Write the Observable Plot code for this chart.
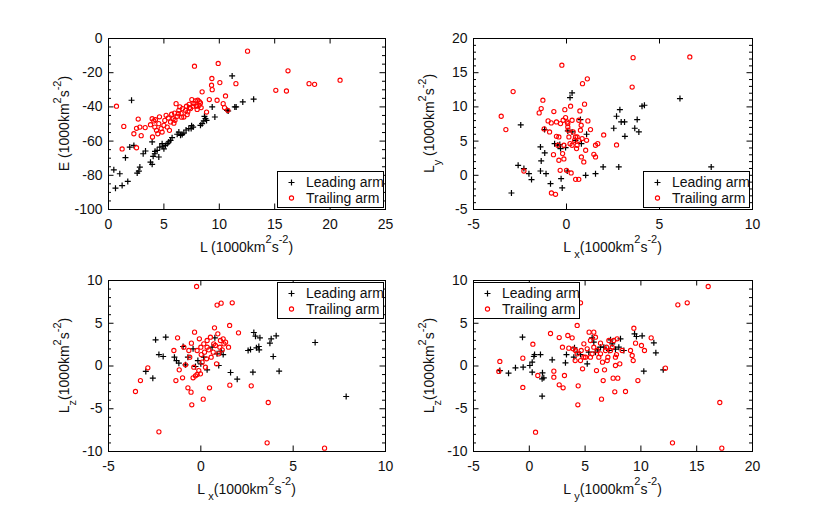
<!DOCTYPE html>
<html><head><meta charset="utf-8">
<script src="https://cdn.jsdelivr.net/npm/d3@7"></script>
<script src="https://cdn.jsdelivr.net/npm/@observablehq/plot@0.6"></script>
<style>
body{margin:0;background:#fff;}
#wrap{position:relative;width:830px;height:510px;overflow:hidden;background:#fff;}
#wrap svg{position:absolute;}
</style></head><body><div id="wrap"></div>
<script>
// ---------- Panel 1: E vs L ----------
const p1Lead = [[0.48,-76.8],[1.02,-79.1],[0.63,-87.5],[1.23,-86.0],[1.74,-83.6],[1.53,-69.7],[1.92,-63.5],[2.29,-62.5],[2.08,-36.1],[2.59,-78.7],[2.83,-75.2],[2.74,-77.5],[3.13,-67.4],[3.34,-65.8],[3.79,-72.3],[3.94,-73.6],[4.03,-68.9],[3.94,-60.5],[4.18,-67.4],[4.39,-65.4],[4.54,-69.3],[4.63,-63.5],[4.84,-61.5],[5.0,-64.5],[5.14,-62.5],[5.3,-61.5],[5.44,-60.5],[5.6,-59.6],[5.74,-58.0],[6.35,-54.7],[6.5,-56.6],[6.65,-56.1],[6.8,-55.3],[7.25,-52.7],[7.46,-52.7],[7.64,-51.8],[8.3,-50.8],[8.45,-49.8],[8.6,-48.2],[8.66,-45.5],[8.75,-46.9],[8.85,-47.9],[9.36,-40.0],[9.6,-45.9],[10.7,-42.0],[10.8,-42.4],[11.16,-21.9],[11.4,-40.0],[11.52,-40.0],[12.12,-37.1],[13.1,-35.5],[4.2,-66.0],[4.9,-63.0],[6.2,-56.0],[7.0,-53.5],[7.5,-51.0]];
const p1Trail = [[0.72,-39.6],[1.38,-51.4],[1.23,-64.6],[2.53,-63.9],[2.29,-55.7],[2.53,-52.5],[2.68,-47.1],[2.83,-51.8],[2.95,-56.8],[3.31,-52.1],[3.79,-50.4],[3.97,-57.6],[4.09,-48.2],[4.24,-47.5],[4.18,-51.8],[4.33,-53.7],[4.54,-49.8],[4.75,-52.7],[5.0,-50.8],[5.08,-47.9],[5.2,-44.9],[5.3,-51.8],[5.5,-53.7],[5.6,-48.8],[5.7,-44.3],[5.84,-46.9],[5.96,-43.6],[6.1,-38.1],[6.2,-45.5],[6.35,-42.0],[6.44,-40.0],[6.56,-43.9],[6.68,-41.0],[6.8,-45.9],[6.95,-42.0],[7.04,-39.6],[7.16,-42.9],[7.28,-38.5],[7.4,-41.0],[7.52,-35.7],[7.64,-39.6],[7.76,-16.2],[7.85,-36.5],[7.94,-39.6],[8.06,-36.1],[8.18,-39.1],[8.3,-37.7],[8.45,-31.2],[8.36,-40.4],[8.85,-43.0],[9.1,-35.7],[9.33,-23.4],[9.3,-27.3],[9.36,-29.9],[9.8,-36.1],[9.9,-14.6],[10.05,-25.8],[10.35,-38.1],[10.47,-40.4],[10.56,-33.6],[10.77,-42.0],[11.5,-26.4],[12.55,-7.4],[15.1,-30.3],[16.06,-30.7],[16.2,-18.9],[18.1,-26.4],[18.6,-26.8],[20.9,-24.4],[3.94,-46.9],[4.45,-55.7],[4.84,-54.7],[5.4,-46.5],[6.0,-47.8],[6.6,-46.0],[7.1,-44.5],[7.3,-40.5],[7.7,-38.0],[8.0,-41.5],[8.2,-37.0],[5.9,-49.5],[6.3,-44.0],[4.6,-45.8]];

// ---------- Panel 2: Ly vs Lx ----------
const p2Lead = [[-2.96,-2.59],[-2.46,7.37],[-2.6,1.46],[-2.29,0.98],[-2.02,0.24],[-1.88,-0.63],[-1.4,4.15],[-1.36,2.1],[-1.4,0.63],[-1.17,3.27],[-1.1,0.24],[-1.18,6.68],[-0.86,-1.22],[-0.64,4.63],[-0.47,4.39],[-0.32,3.9],[-0.29,-0.49],[-0.23,-1.85],[-0.05,4.05],[0.04,0.63],[0.19,11.37],[0.3,12.05],[0.3,6.34],[0.75,8.15],[0.8,4.63],[1.03,0.0],[1.08,6.0],[1.56,0.24],[1.97,1.22],[2.54,6.88],[2.69,8.63],[2.81,1.22],[2.87,9.6],[2.94,7.8],[3.12,7.8],[3.14,5.7],[3.67,6.88],[3.8,8.15],[3.89,6.34],[4.06,10.1],[4.19,10.24],[6.1,11.22],[7.78,1.22],[-0.36,4.49],[0.48,5.12],[0.07,6.49]];
const p2Trail = [[-3.51,8.63],[-3.26,6.68],[-2.87,12.24],[-2.29,0.63],[-1.47,9.12],[-1.36,9.76],[-1.27,10.98],[-1.2,6.78],[-0.99,7.95],[-0.91,6.34],[-0.82,7.66],[-0.68,9.32],[-0.7,3.02],[-0.81,-2.59],[-0.59,-2.78],[-0.54,5.7],[-0.47,4.39],[-0.41,2.2],[-0.34,0.73],[-0.25,16.1],[-0.21,3.17],[-0.14,2.39],[-0.09,9.6],[-0.05,8.44],[0.0,0.73],[0.04,7.8],[0.09,6.59],[0.13,5.61],[0.19,4.63],[0.22,10.1],[0.25,0.34],[0.3,8.05],[0.36,6.34],[0.43,5.12],[0.49,-0.59],[0.54,3.9],[0.57,5.61],[0.66,-0.59],[0.72,9.41],[0.79,7.32],[0.8,2.68],[0.86,13.4],[0.93,1.95],[0.97,10.4],[1.03,3.66],[1.08,5.12],[1.12,14.1],[1.15,7.95],[1.29,6.68],[1.47,3.07],[1.56,2.68],[1.56,4.39],[1.68,4.63],[2.0,5.9],[2.69,4.44],[3.53,12.9],[3.58,17.2],[6.63,17.3],[-0.18,8.05],[0.07,7.07],[0.48,5.61],[0.66,5.12],[0.84,5.37],[0.57,4.39],[0.3,4.39],[-0.14,4.39],[-0.41,5.61],[-0.54,7.8],[-0.32,7.56],[0.07,7.56],[0.66,8.05],[0.75,6.59]];

// ---------- Panel 3: Lz vs Lx ----------
const p3Lead = [[-2.98,-0.64],[-2.6,-1.42],[-2.45,3.06],[-2.27,1.34],[-2.04,1.11],[-1.9,3.37],[-1.43,1.03],[-1.32,0.64],[-1.19,0.33],[-0.96,2.28],[-0.83,0.14],[-0.7,1.03],[-0.42,2.01],[-0.29,-0.06],[-0.16,0.64],[0.0,0.25],[0.16,1.03],[0.34,-0.45],[0.61,2.2],[0.76,3.29],[0.88,1.42],[0.97,0.06],[1.1,1.73],[1.21,1.34],[1.61,-0.76],[1.97,-1.54],[2.56,1.81],[2.69,1.93],[2.82,-0.72],[2.87,3.92],[2.96,3.49],[3.01,2.12],[3.14,2.28],[3.2,3.29],[3.16,1.89],[3.74,2.67],[3.81,3.18],[3.92,1.11],[4.08,3.53],[4.24,-0.6],[6.19,2.75],[7.87,-3.57]];
const p3Trail = [[-3.54,-2.98],[-3.27,-1.7],[-2.87,-0.21],[-2.27,-7.7],[-1.46,1.81],[-1.35,-1.7],[-1.26,3.29],[-1.17,-0.45],[-0.99,-1.38],[-0.92,2.2],[-0.83,0.14],[-0.7,-2.55],[-0.6,1.03],[-0.53,-3.06],[-0.51,2.67],[-0.49,-4.54],[-0.42,-1.38],[-0.34,3.96],[-0.29,-1.15],[-0.23,9.3],[-0.2,-0.99],[-0.11,-0.53],[-0.08,3.18],[0.0,2.2],[0.02,1.34],[0.07,0.45],[0.13,-3.88],[0.16,2.59],[0.2,1.62],[0.31,0.84],[0.43,1.89],[0.47,-2.55],[0.56,1.03],[0.67,1.62],[0.74,4.46],[0.79,2.4],[0.85,0.25],[0.88,7.12],[0.92,3.76],[0.97,1.42],[1.06,2.98],[1.1,7.35],[1.16,1.89],[1.34,2.79],[1.5,2.2],[1.56,4.74],[1.57,-2.24],[1.7,7.39],[2.04,3.88],[2.73,-2.32],[3.65,-4.27],[3.59,-8.99],[6.7,-9.61],[0.25,-0.14],[-0.02,-0.92],[-0.38,-0.14],[0.52,3.37],[0.34,2.98],[0.7,2.59],[1.03,2.2],[1.21,3.18],[-0.65,1.81],[-0.2,1.81],[0.34,2.2],[1.25,2.59]];

// ---------- Panel 4: Lz vs Ly ----------
const p4Lead = [[-2.64,-0.53],[-1.86,-0.84],[-1.24,-0.21],[-0.55,-0.14],[-0.61,3.37],[0.05,0.06],[0.26,-0.72],[0.26,0.45],[0.41,1.11],[0.47,1.34],[1.0,1.34],[1.18,-0.8],[1.15,-1.5],[1.3,-1.38],[1.15,-3.53],[2.05,0.72],[3.24,0.37],[3.33,1.34],[3.99,1.03],[4.05,2.12],[4.29,1.62],[4.59,1.34],[5.19,0.25],[5.33,1.62],[5.63,3.29],[5.78,2.79],[6.14,1.89],[6.68,2.2],[7.13,1.81],[7.28,3.06],[7.43,2.59],[7.72,1.97],[8.02,2.2],[8.17,3.18],[8.47,1.81],[9.43,3.76],[9.6,3.45],[10.11,3.53],[10.26,-0.6],[11.16,2.71],[11.34,1.54],[12.0,-0.45],[6.38,2.2],[5.93,1.62]];
const p4Trail = [[-2.73,-0.64],[-2.64,0.53],[-0.58,-2.51],[-0.58,0.92],[0.32,2.55],[0.56,-7.74],[0.76,-1.11],[1.9,3.8],[2.2,-0.6],[2.2,-1.31],[2.68,3.33],[2.68,-2.2],[2.97,2.2],[3.03,-2.55],[3.15,-1.11],[3.45,3.57],[3.54,2.09],[3.84,3.29],[3.93,2.01],[4.11,0.64],[4.29,4.74],[4.35,-4.54],[4.38,-2.32],[4.59,7.39],[4.65,1.81],[4.77,-0.33],[4.89,2.59],[5.04,1.03],[5.19,2.01],[5.36,3.96],[5.48,2.98],[5.63,1.42],[5.78,3.96],[5.93,3.37],[6.02,-0.53],[6.23,1.03],[6.38,2.67],[6.47,-3.88],[6.56,0.45],[6.62,-1.7],[6.74,-0.45],[6.92,2.2],[7.04,1.03],[7.13,2.98],[7.28,1.81],[7.51,-1.42],[7.66,-3.02],[7.72,0.06],[7.81,1.34],[7.87,3.18],[7.93,-1.42],[8.11,0.25],[8.32,1.81],[8.62,-2.98],[9.07,1.81],[9.22,1.23],[9.31,0.64],[9.37,4.42],[9.52,2.67],[9.73,-1.7],[10.05,2.4],[10.32,1.81],[10.92,3.29],[12.2,-0.25],[13.31,7.15],[14.15,7.39],[16.03,9.3],[17.07,-4.27],[12.83,-8.99],[17.25,-9.61],[4.29,1.42],[4.59,0.64],[5.78,2.2],[6.08,1.81],[6.38,1.42],[6.83,1.81],[6.98,0.64],[7.43,2.2],[7.57,2.98],[7.72,1.03],[5.48,1.03],[4.89,1.03],[4.14,1.81]];

// ---------- Ticks ----------
const p1XTicks = [0, 5, 10, 15, 20, 25];
const p1YTicks = [-100, -80, -60, -40, -20, 0];
const p2XTicks = [-5, 0, 5, 10];
const p2YTicks = [-5, 0, 5, 10, 15, 20];
const p3XTicks = [-5, 0, 5, 10];
const p3YTicks = [-10, -5, 0, 5, 10];
const p4XTicks = [-5, 0, 5, 10, 15, 20];
const p4YTicks = [-10, -5, 0, 5, 10];

const seriesNames = ["Leading arm", "Trailing arm"];
const FONT = '"Liberation Sans", Arial, Helvetica, sans-serif';

const plusSymbol = {
  draw(ctx, size) {
    const r = Math.sqrt(size / Math.PI);
    ctx.moveTo(-r, 0); ctx.lineTo(r, 0);
    ctx.moveTo(0, -r); ctx.lineTo(0, r);
  }
};

function minorTicks(domain, step, majors) {
  return d3.range(domain[0], domain[1] + step / 2, step).filter(v => !majors.some(m => Math.abs(m - v) < 1e-9));
}

function rich(parent, parts, attrs) {
  const t = parent.append("text");
  for (const [k, v] of Object.entries(attrs)) t.attr(k, v);
  t.style("white-space", "pre");
  let cur = 0;
  for (const [s, kind] of parts) {
    const target = kind === "sup" ? -8.5 : kind === "sub" ? 6.5 : 0;
    const ts = t.append("tspan").attr("dy", target - cur).text(s);
    if (kind) ts.attr("font-size", 11);
    cur = target;
  }
}

const unit = [["(1000km", ""], ["2", "sup"], ["s", ""], ["-2", "sup"], [")", ""]];

function panel(cfg) {
  const W = 415, H = 255;
  const {left, top, mL, mR, mT, mB, xDomain, yDomain, xTicks, yTicks, yMinorStep, lead, trail, xLabel, yLabel, legendPos} = cfg;
  const yMinor = minorTicks(yDomain, yMinorStep, yTicks);
  const leadData = lead.map(([x, y]) => ({x, y}));
  const trailData = trail.map(([x, y]) => ({x, y}));
  const fL = mL, fR = W - mR, fT = mT, fB = H - mB;
  const pw = fR - fL, ph = fB - fT;
  const MAJ = 5.5, MIN = 3;
  const tickStyle = {stroke: "black", strokeWidth: 1};
  const chart = Plot.plot({
    width: W, height: H,
    marginLeft: mL, marginRight: mR, marginTop: mT, marginBottom: mB,
    x: {domain: xDomain},
    y: {domain: yDomain},
    style: {fontFamily: FONT, fontSize: "14px", color: "black", background: "transparent", overflow: "visible"},
    marks: [
      Plot.dot(leadData, {x: "x", y: "y", symbol: plusSymbol, r: 3, stroke: "black", fill: "none", strokeWidth: 1.2}),
      Plot.dot(trailData, {x: "x", y: "y", r: 2.1, stroke: "#ff0000", fill: "none", strokeWidth: 1.1}),
      // inward ticks on all four sides
      Plot.tickX(xTicks, {x: d => d, insetTop: ph - MAJ, ...tickStyle}),
      Plot.tickX(xTicks, {x: d => d, insetBottom: ph - MAJ, ...tickStyle}),
      Plot.tickY(yTicks, {y: d => d, insetRight: pw - MAJ, ...tickStyle}),
      Plot.tickY(yTicks, {y: d => d, insetLeft: pw - MAJ, ...tickStyle}),
      Plot.tickY(yMinor, {y: d => d, insetRight: pw - MIN, ...tickStyle}),
      Plot.tickY(yMinor, {y: d => d, insetLeft: pw - MIN, ...tickStyle}),
      Plot.frame({stroke: "black", strokeWidth: 1}),
      Plot.axisX(xTicks, {anchor: "bottom", tickSize: 0, tickPadding: 10, tickFormat: d => String(d), label: null, fill: "#111"}),
      Plot.axisY(yTicks, {anchor: "left", tickSize: 0, tickPadding: 6, tickFormat: d => String(d), label: null, fill: "#111"})
    ]
  });
  const svg = d3.select(chart).style("left", left + "px").style("top", top + "px");
  const g = svg.append("g").attr("font-family", FONT).attr("font-size", 14).attr("fill", "#111");
  rich(g, xLabel, {x: (fL + fR) / 2, y: fB + 42.5, "text-anchor": "middle"});
  rich(g, yLabel, {transform: `translate(${fL - 39},${(fT + fB) / 2}) rotate(-90)`, "text-anchor": "middle"});
  // legend
  const [lx, ly] = legendPos;
  const lg = svg.append("g").attr("font-family", FONT).attr("font-size", 14).attr("text-anchor", "start");
  lg.append("rect").attr("x", lx + 0.5).attr("y", ly + 0.5).attr("width", 106).attr("height", 36)
    .attr("fill", "white").attr("stroke", "black").attr("stroke-width", 1);
  const r1 = ly + 11.5, r2 = ly + 27;
  lg.append("path")
    .attr("d", `M${lx + 11.5},${r1}h6M${lx + 14.5},${r1 - 3}v6`).attr("stroke", "black").attr("stroke-width", 1.2).attr("fill", "none");
  lg.append("circle").attr("cx", lx + 14.5).attr("cy", r2).attr("r", 2.1).attr("stroke", "#ff0000").attr("stroke-width", 1.1).attr("fill", "none");
  lg.append("text").attr("x", lx + 29).attr("y", r1).attr("dy", "0.35em").attr("fill", "#111").attr("text-anchor", "start").text(seriesNames[0]);
  lg.append("text").attr("x", lx + 29).attr("y", r2).attr("dy", "0.35em").attr("fill", "#111").attr("text-anchor", "start").text(seriesNames[1]);
  document.getElementById("wrap").appendChild(chart);
}

panel({left: 0, top: 0, mL: 108, mR: 30, mT: 38, mB: 46,
  xDomain: [0, 25], yDomain: [-100, 0], xTicks: p1XTicks, yTicks: p1YTicks, yMinorStep: 5,
  lead: p1Lead, trail: p1Trail,
  xLabel: [["L ", ""], ...unit], yLabel: [["E ", ""], ...unit], legendPos: [277, 171]});

panel({left: 415, top: 0, mL: 58, mR: 78, mT: 38, mB: 46,
  xDomain: [-5, 10], yDomain: [-5, 20], xTicks: p2XTicks, yTicks: p2YTicks, yMinorStep: 1,
  lead: p2Lead, trail: p2Trail,
  xLabel: [["L ", ""], ["x", "sub"], ...unit], yLabel: [["L", ""], ["y", "sub"], [" ", ""], ...unit], legendPos: [228, 171]});

panel({left: 0, top: 255, mL: 108, mR: 30, mT: 25, mB: 59,
  xDomain: [-5, 10], yDomain: [-10, 10], xTicks: p3XTicks, yTicks: p3YTicks, yMinorStep: 1,
  lead: p3Lead, trail: p3Trail,
  xLabel: [["L ", ""], ["x", "sub"], ...unit], yLabel: [["L", ""], ["z", "sub"], ...unit], legendPos: [277, 27]});

panel({left: 415, top: 255, mL: 58, mR: 78, mT: 25, mB: 59,
  xDomain: [-5, 20], yDomain: [-10, 10], xTicks: p4XTicks, yTicks: p4YTicks, yMinorStep: 1,
  lead: p4Lead, trail: p4Trail,
  xLabel: [["L ", ""], ["y", "sub"], ...unit], yLabel: [["L", ""], ["z", "sub"], ...unit], legendPos: [58, 27]});
</script></body></html>
